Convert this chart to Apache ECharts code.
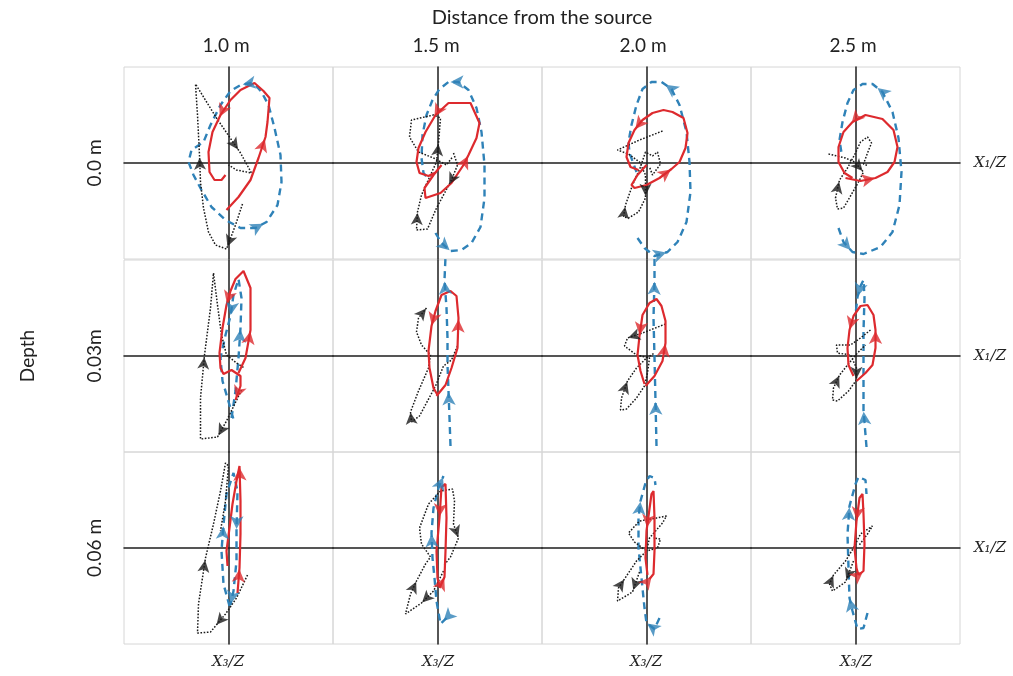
<!DOCTYPE html>
<html><head><meta charset="utf-8">
<script src="https://cdn.jsdelivr.net/npm/echarts/dist/echarts.min.js"></script>
<style>html,body{margin:0;padding:0;background:#fff}#c{width:1013px;height:676px}</style>
</head><body><div id="c"></div>
<script>
// ---- labels ----
const mainTitle = 'Distance from the source';
const distances = ['1.0 m', '1.5 m', '2.0 m', '2.5 m'];
const depths = ['0.0 m', '0.03m', '0.06 m'];
const rowTitle = 'Depth';
const xLabel = 'X\u2083/Z';
const yLabel = 'X\u2081/Z';

// ---- trajectories: [X3/Z, X1/Z] (normalised), arrows at fractional point index ----
// row 0 (depth 0.0 m)
const p00_red = [[-0.02,-0.47],[0.10,-0.34],[0.22,-0.17],[0.30,0.05],[0.37,0.26],[0.39,0.41],[0.41,0.65],[0.35,0.72],[0.26,0.80],[0.12,0.73],[0.02,0.63],[-0.08,0.48],[-0.16,0.31],[-0.20,0.11],[-0.19,-0.09],[-0.14,-0.17],[-0.07,-0.17],[-0.03,-0.12]];
const p00_redArr = [3.9, 11.1];
const p00_blue = [[0.23,0.80],[0.12,0.78],[0.02,0.72],[-0.08,0.58],[-0.18,0.38],[-0.25,0.21],[-0.37,0.13],[-0.40,0.01],[-0.35,-0.12],[-0.27,-0.27],[-0.17,-0.44],[-0.03,-0.57],[0.12,-0.65],[0.27,-0.65],[0.38,-0.59],[0.49,-0.42],[0.53,-0.19],[0.52,0.08],[0.46,0.35],[0.40,0.58],[0.33,0.71],[0.27,0.78]];
const p00_blueArr = [0.8, 13.7];
const p00_black = [[0.14,-0.41],[0.07,-0.62],[-0.02,-0.86],[-0.13,-0.82],[-0.20,-0.69],[-0.25,-0.45],[-0.28,-0.19],[-0.29,0.08],[-0.31,0.48],[-0.33,0.79],[-0.12,0.45],[0.12,0.10],[0.23,-0.10],[0.08,-0.07],[0.00,-0.02]];
const p00_blackArr = [1.9, 6.9, 10.9];

const p01_red = [[0.04,-0.02],[-0.04,-0.12],[-0.13,-0.25],[-0.12,-0.35],[0.03,-0.30],[0.14,-0.20],[0.26,-0.02],[0.31,0.08],[0.39,0.25],[0.42,0.40],[0.33,0.60],[0.11,0.60],[-0.02,0.48],[-0.12,0.31],[-0.19,0.15],[-0.21,0.01],[-0.18,-0.10],[-0.09,-0.13],[-0.01,-0.09]];
const p01_redArr = [6.9, 12.1];
const p01_blue = [[-0.02,-0.70],[0.04,-0.80],[0.13,-0.88],[0.24,-0.87],[0.34,-0.80],[0.43,-0.64],[0.47,-0.35],[0.47,-0.02],[0.44,0.31],[0.39,0.55],[0.31,0.73],[0.21,0.81],[0.11,0.81],[0.02,0.74],[-0.05,0.63],[-0.11,0.48],[-0.15,0.28],[-0.16,0.05],[-0.14,-0.10],[-0.08,-0.17]];
const p01_blueArr = [1.9, 11.8];
const p01_black = [[0.16,0.10],[0.20,-0.02],[0.14,-0.17],[0.06,-0.32],[-0.01,-0.45],[-0.10,-0.66],[-0.21,-0.67],[-0.20,-0.49],[-0.16,-0.32],[-0.07,-0.12],[-0.01,0.01],[0.01,0.20],[0.03,0.45],[-0.04,0.48],[-0.26,0.43],[-0.28,0.26],[-0.19,0.11],[-0.04,0.05],[0.09,-0.02],[0.15,0.06]];
const p01_blackArr = [2.3, 6.95, 10.95];

const p02_red = [[0.00,-0.02],[-0.09,-0.12],[-0.15,-0.22],[-0.12,-0.25],[0.00,-0.22],[0.13,-0.15],[0.25,-0.06],[0.33,0.01],[0.39,0.15],[0.41,0.30],[0.37,0.45],[0.26,0.51],[0.17,0.53],[0.06,0.50],[-0.04,0.43],[-0.12,0.33],[-0.18,0.20],[-0.20,0.06],[-0.16,-0.04],[-0.08,-0.07]];
const p02_redArr = [5.95, 14.9];
const p02_blue = [[-0.09,-0.75],[-0.02,-0.85],[0.08,-0.93],[0.21,-0.89],[0.31,-0.79],[0.40,-0.59],[0.44,-0.29],[0.43,0.01],[0.40,0.31],[0.33,0.58],[0.25,0.74],[0.15,0.81],[0.05,0.81],[-0.04,0.74],[-0.10,0.58],[-0.15,0.38],[-0.18,0.21],[-0.17,0.10],[-0.10,-0.09]];
const p02_blueArr = [2.9, 10.6];
const p02_black = [[0.16,0.32],[-0.07,0.23],[-0.29,0.13],[-0.18,0.09],[-0.07,0.01],[-0.01,-0.12],[-0.01,-0.35],[-0.08,-0.49],[-0.18,-0.55],[-0.23,-0.54],[-0.21,-0.42],[-0.14,-0.22],[-0.06,-0.04],[-0.01,0.11],[0.06,0.07],[0.11,0.11],[0.14,-0.01],[0.06,-0.12],[0.03,-0.04]];
const p02_blackArr = [5.9, 9.85];

const p03_red = [[-0.10,-0.15],[0.05,-0.18],[0.20,-0.15],[0.32,-0.09],[0.39,0.01],[0.42,0.16],[0.38,0.33],[0.27,0.44],[0.10,0.48],[-0.03,0.41],[-0.12,0.31],[-0.17,0.16],[-0.17,0.01],[-0.11,-0.10],[-0.03,-0.15]];
const p03_redArr = [1.95, 9.1];
const p03_blue = [[-0.17,-0.65],[-0.12,-0.79],[-0.03,-0.89],[0.08,-0.91],[0.25,-0.84],[0.37,-0.69],[0.44,-0.42],[0.46,-0.09],[0.43,0.25],[0.37,0.51],[0.27,0.71],[0.17,0.79],[0.07,0.79],[-0.02,0.73],[-0.08,0.60],[-0.13,0.41],[-0.16,0.23],[-0.14,0.10]];
const p03_blueArr = [1.8, 10.5];
const p03_black = [[-0.27,0.09],[-0.10,0.05],[-0.01,0.01],[0.08,-0.09],[0.03,-0.19],[-0.05,-0.33],[-0.12,-0.45],[-0.18,-0.46],[-0.20,-0.35],[-0.16,-0.17],[-0.08,-0.05],[0.00,0.10],[0.05,0.21],[0.12,0.26],[0.16,0.20],[0.12,0.10],[0.08,-0.01],[0.13,-0.03]];
const p03_blackArr = [2.9, 8.9];

// row 1 (depth 0.03 m)
const p10_red = [[0.10,-0.17],[0.17,-0.02],[0.22,0.26],[0.22,0.68],[0.15,0.85],[0.07,0.77],[0.02,0.65],[-0.02,0.51],[-0.06,0.28],[-0.09,0.03],[-0.08,-0.12],[-0.05,-0.18],[0.03,-0.14],[0.12,-0.20],[0.12,-0.30],[0.07,-0.44]];
const p10_redArr = [1.95, 6.9, 14.9];
const p10_blue = [[0.03,-0.62],[0.07,-0.35],[0.10,-0.02],[0.12,0.28],[0.13,0.58],[0.10,0.77],[0.05,0.61],[0.02,0.40],[-0.03,0.21],[-0.08,-0.02],[-0.06,-0.25],[0.01,-0.49],[0.06,-0.67]];
const p10_blueArr = [2.95, 6.95];
const p10_black = [[0.13,-0.34],[-0.02,-0.65],[-0.11,-0.81],[-0.28,-0.83],[-0.28,-0.42],[-0.24,0.01],[-0.18,0.48],[-0.15,0.83],[-0.11,0.51],[-0.07,0.21],[-0.02,0.01],[0.08,-0.07],[0.16,-0.12]];
const p10_blackArr = [1.9, 4.95];

const p11_red = [[-0.01,-0.40],[0.08,-0.29],[0.14,-0.12],[0.20,0.08],[0.21,0.38],[0.19,0.60],[0.13,0.65],[0.04,0.61],[-0.02,0.45],[-0.06,0.30],[-0.09,0.05],[-0.08,-0.12],[-0.04,-0.32],[0.00,-0.39]];
const p11_redArr = [3.95, 8.95];
const p11_blue = [[0.13,-0.90],[0.12,-0.62],[0.11,-0.35],[0.10,-0.09],[0.10,0.18],[0.09,0.48],[0.07,0.76],[0.08,0.99]];
const p11_blueArr = [1.95, 5.95];
const p11_black = [[0.20,0.10],[0.14,-0.04],[0.06,-0.10],[-0.02,-0.30],[-0.10,-0.45],[-0.18,-0.60],[-0.26,-0.66],[-0.27,-0.56],[-0.19,-0.35],[-0.09,-0.12],[-0.07,0.01],[-0.16,0.11],[-0.21,0.24],[-0.19,0.38],[-0.11,0.48]];
const p11_blackArr = [6.95, 13.95];

const p12_red = [[-0.01,-0.30],[0.08,-0.20],[0.16,-0.05],[0.19,0.13],[0.19,0.35],[0.15,0.50],[0.10,0.57],[0.03,0.53],[-0.04,0.41],[-0.07,0.20],[-0.09,0.01],[-0.06,-0.15],[-0.02,-0.28]];
const p12_redArr = [2.95, 8.95];
const p12_blue = [[0.10,-0.90],[0.09,-0.45],[0.08,-0.02],[0.07,0.38],[0.08,0.75],[0.08,0.99]];
const p12_blueArr = [0.98, 3.98];
const p12_black = [[0.19,0.32],[-0.04,0.23],[-0.19,0.18],[-0.22,0.10],[-0.10,0.01],[0.03,-0.02],[0.01,-0.17],[-0.02,-0.30],[-0.10,-0.42],[-0.20,-0.53],[-0.26,-0.54],[-0.25,-0.42],[-0.19,-0.25],[-0.10,-0.12],[0.00,-0.02],[0.08,0.03]];
const p12_blackArr = [1.95, 11.95];

const p13_red = [[0.01,-0.25],[0.10,-0.17],[0.17,-0.09],[0.20,0.08],[0.20,0.26],[0.18,0.41],[0.12,0.51],[0.05,0.50],[-0.02,0.40],[-0.06,0.26],[-0.08,0.08],[-0.07,-0.09],[-0.02,-0.20]];
const p13_redArr = [3.95, 8.95];
const p13_blue = [[0.11,-0.91],[0.08,-0.54],[0.08,-0.15],[0.08,0.25],[0.09,0.58],[0.08,0.76],[0.05,0.70],[0.02,0.59],[0.00,0.41]];
const p13_blueArr = [0.95, 6.9];
const p13_black = [[0.15,0.26],[0.05,0.18],[-0.05,0.11],[-0.19,0.11],[-0.18,0.03],[-0.05,0.01],[0.01,-0.12],[0.01,-0.24],[-0.07,-0.35],[-0.18,-0.45],[-0.23,-0.44],[-0.22,-0.32],[-0.16,-0.19],[-0.08,-0.09],[0.02,0.03],[0.10,0.11]];
const p13_blackArr = [6.9, 11.95];

// row 2 (depth 0.06 m)
const p20_red = [[0.09,-0.45],[0.11,-0.20],[0.12,0.14],[0.12,0.47],[0.11,0.82],[0.08,0.67],[0.04,0.44],[0.01,0.20],[-0.02,-0.03],[-0.01,-0.18]];
const p20_redArr = [0.95, 3.95];
const p20_blue = [[0.01,-0.58],[-0.05,-0.36],[-0.07,-0.03],[-0.05,0.23],[-0.02,0.54],[0.05,0.75],[0.09,0.57],[0.08,0.17],[0.08,-0.13],[0.05,-0.43],[0.02,-0.57]];
const p20_blueArr = [2.95, 6.95, 9.9];
const p20_black = [[0.19,-0.27],[0.08,-0.50],[-0.03,-0.66],[-0.13,-0.78],[-0.18,-0.84],[-0.31,-0.85],[-0.30,-0.56],[-0.23,-0.10],[-0.15,0.24],[-0.08,0.57],[-0.03,0.85],[0.00,0.82],[-0.03,0.47],[-0.08,0.17]];
const p20_blackArr = [2.9, 6.95];

const p21_red = [[0.02,-0.40],[0.07,-0.29],[0.08,-0.03],[0.09,0.30],[0.08,0.64],[0.04,0.61],[0.02,0.30],[-0.01,-0.03],[0.00,-0.30],[0.02,-0.39]];
const p21_redArr = [0.95, 5.95];
const p21_blue = [[0.09,-0.70],[0.03,-0.76],[-0.01,-0.53],[-0.03,-0.30],[-0.05,-0.10],[-0.06,0.15],[-0.04,0.40],[0.01,0.60],[0.06,0.72]];
const p21_blueArr = [0.5, 4.95, 7.9];
const p21_black = [[0.06,-0.23],[-0.04,-0.43],[-0.16,-0.55],[-0.32,-0.66],[-0.27,-0.46],[-0.21,-0.33],[-0.12,-0.16],[-0.07,-0.09],[-0.16,0.04],[-0.18,0.20],[-0.09,0.44],[0.03,0.57],[0.15,0.59],[0.17,0.47],[0.16,0.24],[0.21,0.10],[0.13,-0.09],[0.06,-0.18]];
const p21_blackArr = [1.95, 4.95, 14.95];

const p22_red = [[0.03,-0.31],[0.07,-0.26],[0.08,-0.03],[0.08,0.30],[0.07,0.57],[0.05,0.54],[0.00,0.17],[-0.01,-0.10],[0.01,-0.27]];
const p22_redArr = [0.5, 5.9];
const p22_blue = [[0.13,-0.70],[0.08,-0.81],[0.00,-0.75],[-0.02,-0.60],[-0.05,-0.30],[-0.08,0.00],[-0.08,0.30],[-0.06,0.47],[-0.01,0.65],[0.03,0.72],[0.08,0.70],[0.09,0.63]];
const p22_blueArr = [1.9, 6.95];
const p22_black = [[-0.07,-0.24],[-0.14,-0.44],[-0.29,-0.53],[-0.28,-0.40],[-0.22,-0.31],[-0.10,-0.13],[0.00,-0.03],[-0.12,0.06],[-0.18,0.15],[-0.07,0.27],[0.10,0.30],[0.20,0.32],[0.16,0.25],[0.03,0.10],[0.00,-0.03],[0.11,0.00],[0.14,0.09],[0.07,0.10]];
const p22_blackArr = [0.9, 3.95];

const p23_red = [[0.03,-0.27],[0.08,-0.23],[0.09,0.04],[0.08,0.34],[0.07,0.54],[0.04,0.50],[0.01,0.27],[-0.01,0.00],[0.01,-0.20],[0.03,-0.27]];
const p23_redArr = [0.9, 5.95];
const p23_blue = [[0.12,-0.65],[0.08,-0.80],[0.02,-0.81],[-0.03,-0.63],[-0.06,-0.50],[-0.07,-0.20],[-0.08,0.14],[-0.06,0.42],[0.00,0.64],[0.03,0.71],[0.10,0.68],[0.11,0.54]];
const p23_blueArr = [3.95, 6.95];
const p23_black = [[-0.02,-0.13],[-0.10,-0.34],[-0.23,-0.43],[-0.26,-0.36],[-0.22,-0.27],[-0.10,-0.13],[-0.02,0.00],[0.05,0.14],[0.17,0.22],[0.12,0.14],[0.03,0.02]];
const p23_blackArr = [0.9, 3.95];

// ---- assemble ----
const panels = [
  [p00_blue,p00_blueArr,p00_black,p00_blackArr,p00_red,p00_redArr],
  [p01_blue,p01_blueArr,p01_black,p01_blackArr,p01_red,p01_redArr],
  [p02_blue,p02_blueArr,p02_black,p02_blackArr,p02_red,p02_redArr],
  [p03_blue,p03_blueArr,p03_black,p03_blackArr,p03_red,p03_redArr],
  [p10_blue,p10_blueArr,p10_black,p10_blackArr,p10_red,p10_redArr],
  [p11_blue,p11_blueArr,p11_black,p11_blackArr,p11_red,p11_redArr],
  [p12_blue,p12_blueArr,p12_black,p12_blackArr,p12_red,p12_redArr],
  [p13_blue,p13_blueArr,p13_black,p13_blackArr,p13_red,p13_redArr],
  [p20_blue,p20_blueArr,p20_black,p20_blackArr,p20_red,p20_redArr],
  [p21_blue,p21_blueArr,p21_black,p21_blackArr,p21_red,p21_redArr],
  [p22_blue,p22_blueArr,p22_black,p22_blackArr,p22_red,p22_redArr],
  [p23_blue,p23_blueArr,p23_black,p23_blackArr,p23_red,p23_redArr]
];

const colLeft = [124, 333, 542, 751];
const rowTop = [67, 260, 452];
const PW = 209, PH = 192;
const XR = PW / 200, YR = PH / 200;

const BLUE = '#2f82b8', RED = '#dd2a2e', BLACK = '#1a1a1a';

function arrowPts(path, idx) {
  return idx.map(f => {
    const i = Math.min(Math.floor(f), path.length - 2), t = f - i;
    const a = path[i], b = path[i + 1];
    const ang = Math.atan2(b[1] - a[1], b[0] - a[0]) * 180 / Math.PI - 90;
    return { value: [a[0] + t * (b[0] - a[0]), a[1] + t * (b[1] - a[1])], symbolRotate: ang };
  });
}

const grid = [], xAxis = [], yAxis = [], series = [];
const styles = [
  { color: BLUE, width: 2.4, type: [7, 5], arrow: [10, 13] },
  { color: BLACK, width: 1.5, type: [1.6, 1.6], arrow: [9, 12] },
  { color: RED, width: 2.2, type: 'solid', arrow: [10, 13] }
];
panels.forEach((pn, p) => {
  const r = Math.floor(p / 4), c = p % 4;
  grid.push({ left: colLeft[c], top: rowTop[r], width: PW, height: PH, show: true,
    borderColor: '#d6d6d6', borderWidth: 1, backgroundColor: 'transparent' });
  const ax = { gridIndex: p, type: 'value', axisTick: { show: false }, axisLabel: { show: false },
    splitLine: { show: false }, axisLine: { show: true, onZero: true, lineStyle: { color: '#1e1e1e', width: 1.5 } } };
  xAxis.push(Object.assign({}, ax, { min: -XR, max: XR }));
  yAxis.push(Object.assign({}, ax, { min: -YR, max: YR }));
  for (let k = 0; k < 3; k++) {
    const path = pn[2 * k], arr = pn[2 * k + 1], st = styles[k];
    series.push({ type: 'line', xAxisIndex: p, yAxisIndex: p, data: path, showSymbol: false,
      symbol: 'none', smooth: false, clip: true, silent: true, animation: false, z: 2 + k,
      lineStyle: { color: st.color, width: st.width, type: st.type } });
    series.push({ type: 'scatter', xAxisIndex: p, yAxisIndex: p, data: arrowPts(path, arr),
      symbol: 'arrow', symbolSize: st.arrow, silent: true, animation: false, z: 5 + k,
      itemStyle: { color: st.color } });
  }
});

const FONT = 'Lato';
const graphic = [];
graphic.push({ type: 'text', x: 542, y: 18, style: { text: mainTitle, fontFamily: FONT, fontSize: 20, fill: '#222', align: 'center', verticalAlign: 'middle' } });
const colText = [226, 436, 643, 853];
const xLabX = [228, 438, 646, 856];
distances.forEach((d, c) => {
  graphic.push({ type: 'text', x: colText[c], y: 46, style: { text: d, fontFamily: FONT, fontSize: 19, fill: '#222', align: 'center', verticalAlign: 'middle' } });
  graphic.push({ type: 'text', x: xLabX[c], y: 662, style: { text: xLabel, fontFamily: 'DejaVu Serif', fontStyle: 'italic', fontSize: 15, fill: '#222', align: 'center', verticalAlign: 'middle' } });
});
depths.forEach((d, r) => {
  const cy = rowTop[r] + PH / 2;
  graphic.push({ type: 'text', x: 95, y: cy, rotation: Math.PI / 2, style: { text: d, fontFamily: FONT, fontSize: 19, fill: '#222', align: 'center', verticalAlign: 'middle' } });
  graphic.push({ type: 'text', x: 990, y: cy, style: { text: yLabel, fontFamily: 'DejaVu Serif', fontStyle: 'italic', fontSize: 15, fill: '#222', align: 'center', verticalAlign: 'middle' } });
});
graphic.push({ type: 'text', x: 28, y: 356, rotation: Math.PI / 2, style: { text: rowTitle, fontFamily: FONT, fontSize: 19, fill: '#222', align: 'center', verticalAlign: 'middle' } });

const chart = echarts.init(document.getElementById('c'), null, { renderer: 'canvas' });
chart.setOption({ animation: false, backgroundColor: '#fff', grid, xAxis, yAxis, series, graphic });
</script>
</body></html>
